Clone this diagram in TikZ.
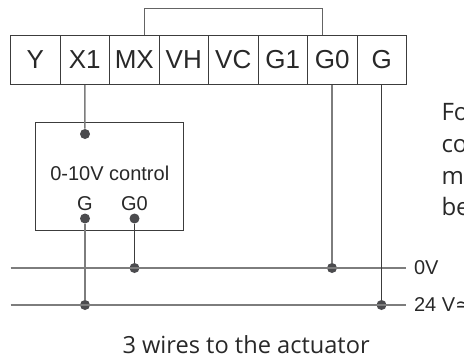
\documentclass[tikz,border=0pt]{standalone}
\usepackage{fontspec}
\setmainfont{Liberation Sans}
\newfontfamily\notefont{Open Sans}
\newfontfamily\symbolfont{DejaVu Sans}
\definecolor{boxcolor}{RGB}{60,60,60}
\definecolor{railcolor}{RGB}{125,125,125}
\definecolor{wirecolor}{RGB}{100,100,100}
\definecolor{dotcolor}{RGB}{75,75,78}
\definecolor{textcolor}{RGB}{40,40,40}

\begin{document}
\begin{tikzpicture}[x=1pt, y=-1pt, node distance={49.5pt}, line width=1pt,
		cell/.style = {draw=boxcolor, minimum width=49.5pt, minimum height=49pt, inner sep=0pt, text=textcolor, font=\fontsize{26}{28}\selectfont},
		dot/.style = {circle, fill=dotcolor, inner sep=0pt, minimum size=10pt},
		small/.style = {inner sep=0pt, text=textcolor, anchor=base, font=\fontsize{20}{24}\selectfont},
		note/.style = {inner sep=0pt, anchor=base west, text=textcolor, font=\notefont\fontsize{24}{28}\selectfont},
		wire/.style = {draw=wirecolor, line width=1pt},
		rail/.style = {draw=railcolor, line width=1.5pt}]
		\useasboundingbox (0,0) rectangle (464,360);

		\node[cell] (Y) at (35.25,60) {Y};
		\node[cell] (X1) [right of=Y] {X1};
		\node[cell] (MX) [right of=X1] {MX};
		\node[cell] (VH) [right of=MX] {VH};
		\node[cell] (VC) [right of=VH] {VC};
		\node[cell] (G1) [right of=VC] {G1};
		\node[cell] (G0) [right of=G1] {G0};
		\node[cell] (G) [right of=G0] {G};

		\node[draw=boxcolor, minimum width=148pt, minimum height=108.5pt, inner sep=0pt] (Control) at (109.5,176.25) {};
		\node[small] (ControlName) at (109.75,180) {0-10V control};
		\node[small] (LabelG) at (85,210) {G};
		\node[small] (LabelGzero) at (134.5,210) {G0};

		\node[dot] (DotX1) at (85,134) {};
		\node[dot] (DotG) at (85,218.5) {};
		\node[dot] (DotGzero) at (134.5,218.5) {};

		\coordinate (RailzeroL) at (10.5,268);
		\coordinate (RailzeroR) at (406,268);
		\coordinate (RailfourL) at (10.5,305);
		\coordinate (RailfourR) at (406,305);
		\coordinate (BridgeL) at (144.5,8.5);
		\coordinate (BridgeR) at (322.5,8.5);

		\node[dot] (JoinGzero) at (134.5,268) {};
		\node[dot] (JoinG) at (85,305) {};
		\node[dot] (JoinTermzero) at (332,268) {};
		\node[dot] (JoinTermG) at (381.5,305) {};

		\draw[rail] (RailzeroL) -- (RailzeroR);
		\draw[rail] (RailfourL) -- (RailfourR);

		\draw[wire] (BridgeL |- MX.north) -- (BridgeL) -- (BridgeR) -- (BridgeR |- G0.north);
		\draw[wire, line width=1.5pt, draw=railcolor] (X1.south) -- (DotX1);
		\draw[wire, line width=1.5pt, draw=railcolor] (DotG) -- (JoinG);
		\draw[draw=boxcolor] (DotGzero) -- (JoinGzero);
		\draw[wire, line width=1.5pt, draw=railcolor] (JoinTermzero |- G0.south) -- (JoinTermzero);
		\draw[draw=boxcolor] (JoinTermG |- G.south) -- (JoinTermG);

		\node[small, anchor=base west] (LabelZero) at (413.5,274.5) {0V};
		\node[small, anchor=base west] (LabelFour) at (413.5,311.5) {24 V{\symbolfont ≃}};

		\node[note] (NoteA) at (441,120) {Fo};
		\node[note] (NoteB) at (441,152) {co};
		\node[note] (NoteC) at (441,184) {mo};
		\node[note] (NoteD) at (441,215) {be};
		\node[note, font=\notefont\fontsize{23.6}{28}\selectfont] (Caption) at (122,353) {3 wires to the actuator};
	\end{tikzpicture}
\end{document}
